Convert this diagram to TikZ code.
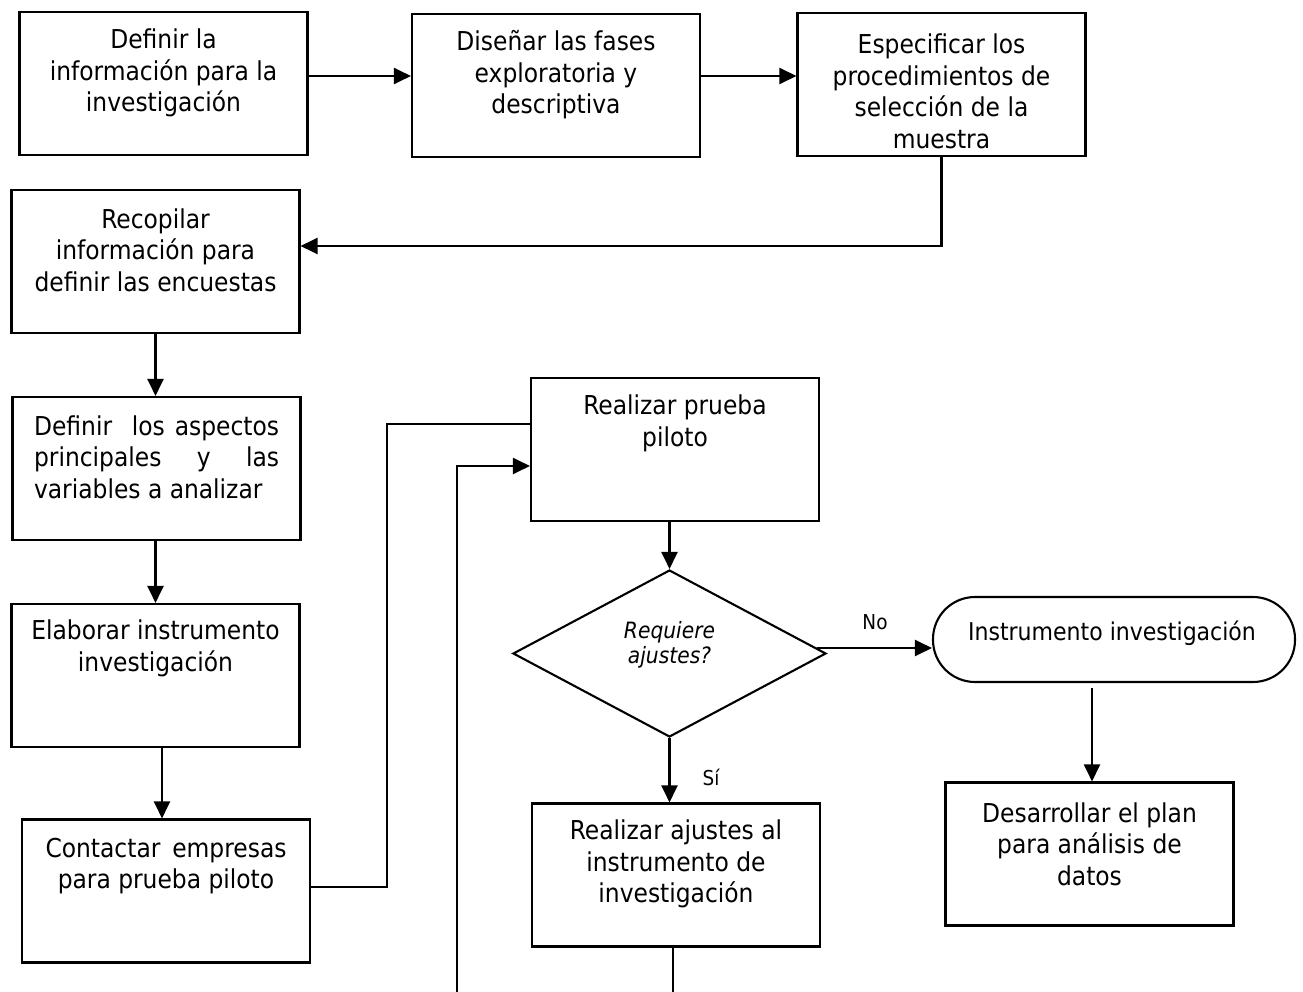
\documentclass[tikz,border=0pt]{standalone}
\usepackage{fontspec}
\setmainfont{DejaVu Sans Condensed}
\usetikzlibrary{shapes.geometric,arrows.meta,calc}

\begin{document}
\begin{tikzpicture}[x=1pt,y=-1pt,
  line width=2.1pt,
  box/.style={draw, rectangle, inner sep=0pt, minimum width=288pt, minimum height=143pt},
  txt/.style={align=center, inner sep=0pt, font=\fontsize{26}{31.5}\selectfont},
  small/.style={inner sep=0pt, font=\fontsize{20.5}{23}\selectfont},
  arr/.style={-{Triangle[length=17pt,width=16pt]}},
  link/.style={line cap=rect}
]
\useasboundingbox (0,0) rectangle (1303,992);

% process boxes
\node[box] (b1) at (163.5,83.5) {};
\node[box] (b2) at (556,85.5) {};
\node[box] (b3) at (941.5,84.5) {};
\node[box] (b4) at (155.5,261.5) {};
\node[box] (b5) at (156.5,468.5) {};
\node[box] (b6) at (155.5,675.5) {};
\node[box] (b7) at (166,891) {};
\node[box] (b8) at (675,449.5) {};
\node[box] (b9) at (676,875) {};
\node[box] (b10) at (1089.5,854) {};

% decision and terminal
\node[draw, diamond, inner sep=0pt, minimum width=313pt, minimum height=167pt] (dia) at (669.5,653.5) {};
\node[draw, rectangle, rounded corners=42pt, inner sep=0pt, minimum width=362pt, minimum height=85pt] (ell) at (1114,639.5) {};

% box texts
\node[txt] (t1) at (163.5,73) {Definir la\\información para la\\investigación};
\node[txt] (t2) at (556,75) {Diseñar las fases\\exploratoria y\\descriptiva};
\node[txt] (t3) at (941.5,91.5) {Especificar los\\procedimientos de\\selección de la\\muestra};
\node[txt] (t4) at (155.5,250) {Recopilar\\información para\\definir las encuestas};
\node[txt, align=left, anchor=west] (t5) at (33,457) {\makebox[245pt][s]{Definir\ \ los aspectos}\\\makebox[245pt][s]{principales\ \ y\ \ las}\\variables a analizar};
\node[txt] (t6) at (155.5,648.5) {Elaborar instrumento\\investigación};
\node[txt] (t7) at (166,866) {\makebox[241pt][s]{Contactar\ \ empresas}\\para prueba piloto};
\node[txt] (t8) at (675,423.5) {Realizar prueba\\piloto};
\node[txt] (t9) at (676,864) {Realizar ajustes al\\instrumento de\\investigación};
\node[txt] (t10) at (1089.5,844) {Desarrollar el plan\\para análisis de\\datos};
\node[txt, font=\fontsize{22.5}{24.5}\selectfont\itshape] (td) at (669.5,645) {Requiere\\ajustes?};
\node[txt, font=\fontsize{24.5}{28}\selectfont] (te) at (1112,633) {Instrumento investigación};

% branch labels
\node[small] (lno) at (875,622) {No};
\node[small] (lsi) at (711,777) {Sí};

% free ends at the lower edge
\coordinate (lp) at (457,992);
\coordinate (le) at (673,992);

% connectors
\draw[arr] (b1.east |- 0,76) -- (b2.west |- 0,76);
\draw[arr] (b2.east |- 0,76) -- (b3.west |- 0,76);
\draw[arr] (b3.south) |- (b4.east |- 0,246);
\draw[arr] (b4.south) -- (b4.south |- b5.north);
\draw[arr] (b5.south -| 155.5,0) -- (b6.north);
\draw[arr] (b6.south -| 162,0) -- (b7.north -| 162,0);
\draw[link] (b7.east |- 0,887) -| (387,424) -- (b8.west |- 0,424);
\draw[arr] (lp) |- (b8.west |- 0,466);
\draw[arr] (dia.north |- b8.south) -- (dia.north);
\draw[arr] ($(dia.east)+(-10,-5.5)$) -- (ell.west |- 0,648);
\draw[arr] (dia.south) -- (dia.south |- b9.north);
\draw (b9.south -| le) -- (le);
\draw[arr] ($(ell.south -| 1092,0)+(0,5)$) -- (b10.north -| 1092,0);
\end{tikzpicture}
\end{document}
